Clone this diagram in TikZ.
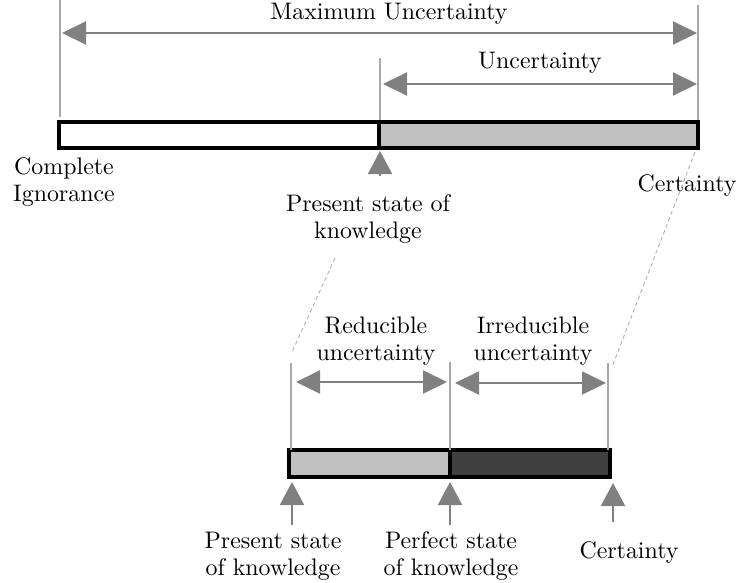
\documentclass[tikz,border=0pt]{standalone}
\usepackage{graphicx}
\usetikzlibrary{arrows.meta}
\definecolor{arrowgray}{HTML}{808080}
\definecolor{guidegray}{HTML}{A8A8A8}
\definecolor{lightfill}{HTML}{C0C0C0}
\definecolor{darkfill}{HTML}{404040}
% label text: 10pt design size, enlarged
\newcommand{\lbltext}[1]{\scalebox{2.39}{\fontsize{10}{11.3}\selectfont\begin{tabular}{@{}c@{}}#1\end{tabular}}}
\begin{document}
\begin{tikzpicture}[x=1pt,y=-1pt,
  lbl/.style={inner sep=0pt},
  guide/.style={guidegray, line width=1.5pt},
  span/.style={arrowgray, line width=2pt, {Triangle[length=24pt,width=23pt]}-{Triangle[length=24pt,width=23pt]}},
  pointer/.style={arrowgray, line width=2pt, -{Triangle[length=23pt,width=24pt]}},
  barframe/.style={draw=black, line width=3.6pt},
  leader/.style={guidegray, line width=0.8pt, dash pattern=on 4pt off 3pt}]
\useasboundingbox (0,0) rectangle (738,582);

% ---------- upper scale: ignorance to certainty ----------
\fill[white] (59,122) rectangle (379,148);
\fill[lightfill] (379,122) rectangle (698,148);
\draw[barframe] (59,122) rectangle (698,148);
\draw[barframe] (379,122) -- (379,148);

\coordinate (igTop) at (60,0);     \coordinate (igBot) at (60,117);
\coordinate (psTop) at (380,58);   \coordinate (psBot) at (380,120);
\coordinate (ceTop) at (698,5);    \coordinate (ceBot) at (698,120);
\draw[guide] (igTop) -- (igBot);
\draw[guide] (psTop) -- (psBot);
\draw[guide] (ceTop) -- (ceBot);

\coordinate (maxL) at (62,33);  \coordinate (maxR) at (697,33);
\coordinate (unL) at (383,84);  \coordinate (unR) at (697,84);
\draw[span] (maxL) -- (maxR);
\draw[span] (unL) -- (unR);

\coordinate (psFrom) at (380,176); \coordinate (psTo) at (380,151);
\draw[pointer] (psFrom) -- (psTo);

\node[lbl] (maxlbl) at (389,14) {\lbltext{Maximum Uncertainty}};
\node[lbl] (unlbl) at (540,63) {\lbltext{Uncertainty}};
\node[lbl] (ignlbl) at (64,183) {\lbltext{Complete\\Ignorance}};
\node[lbl] (pslbl) at (368,220) {\lbltext{Present state of\\knowledge}};
\node[lbl] (celbl) at (687,186) {\lbltext{Certainty}};

% ---------- zoomed scale: present knowledge to certainty ----------
\coordinate (zoomA1) at (335,258); \coordinate (zoomA2) at (292,352);
\coordinate (zoomB1) at (695,152); \coordinate (zoomB2) at (612,367);
\draw[leader] (zoomA1) -- (zoomA2);
\draw[leader] (zoomB1) -- (zoomB2);

\fill[lightfill] (289,450) rectangle (450,477);
\fill[darkfill] (450,450) rectangle (610,477);
\draw[barframe] (289,450) rectangle (610,477);
\draw[barframe] (450,450) -- (450,477);

\coordinate (g1Top) at (291,363); \coordinate (g1Bot) at (291,450);
\coordinate (g2Top) at (450,362); \coordinate (g2Bot) at (450,450);
\coordinate (g3Top) at (608,363); \coordinate (g3Bot) at (608,450);
\draw[guide] (g1Top) -- (g1Bot);
\draw[guide] (g2Top) -- (g2Bot);
\draw[guide] (g3Top) -- (g3Bot);

\coordinate (redL) at (296,382); \coordinate (redR) at (447,382);
\coordinate (irrL) at (455,383); \coordinate (irrR) at (606,383);
\draw[span] (redL) -- (redR);
\draw[span] (irrL) -- (irrR);

\coordinate (p1From) at (292,525); \coordinate (p1To) at (292,482);
\coordinate (p2From) at (450,525); \coordinate (p2To) at (450,482);
\coordinate (p3From) at (613,522); \coordinate (p3To) at (613,483);
\draw[pointer] (p1From) -- (p1To);
\draw[pointer] (p2From) -- (p2To);
\draw[pointer] (p3From) -- (p3To);

\node[lbl] (redlbl) at (376,342) {\lbltext{Reducible\\uncertainty}};
\node[lbl] (irrlbl) at (533,342) {\lbltext{Irreducible\\uncertainty}};
\node[lbl] (plbl) at (273,557) {\lbltext{Present state\\of knowledge}};
\node[lbl] (pflbl) at (451,557) {\lbltext{Perfect state\\of knowledge}};
\node[lbl] (c2lbl) at (629,553) {\lbltext{Certainty}};
\end{tikzpicture}
\end{document}
